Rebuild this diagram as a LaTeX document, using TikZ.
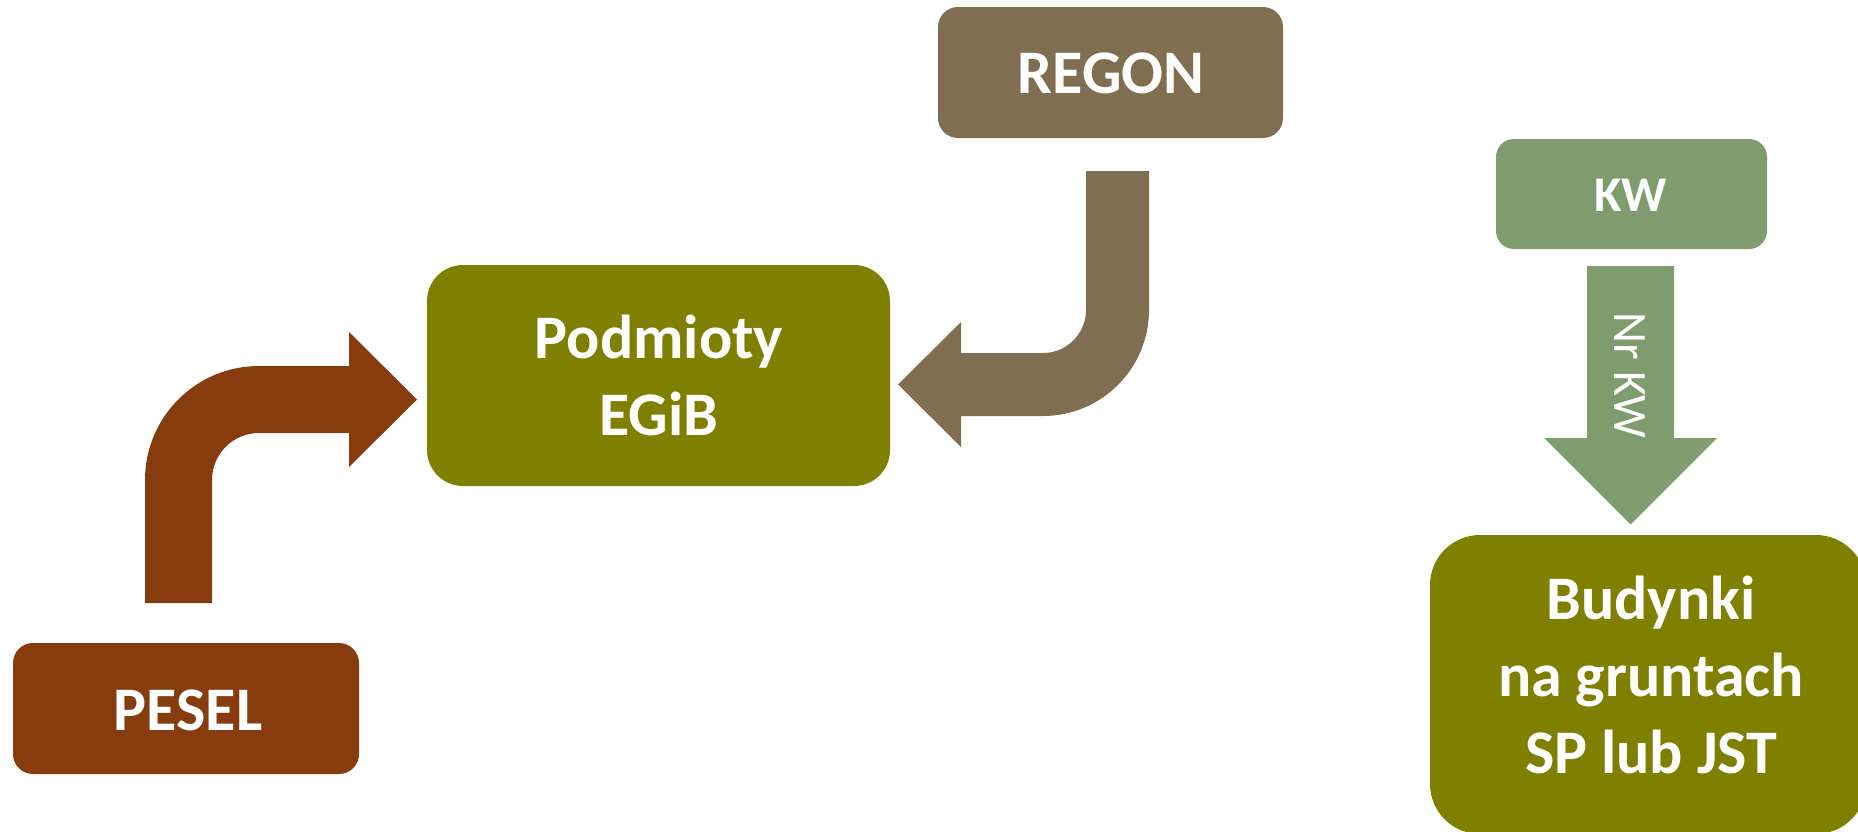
\documentclass[tikz,border=0pt]{standalone}
\usepackage{fontspec}
\setmainfont{Carlito}
\definecolor{olivebox}{RGB}{128,128,0}
\definecolor{regonc}{RGB}{127,111,80}
\definecolor{kwc}{RGB}{127,156,111}
\definecolor{peselc}{RGB}{135,60,14}
\newcommand{\cf}{\rule[-0.3em]{0pt}{1.232em}}
\tikzset{
  boxnode/.style={rectangle, rounded corners=#1, inner sep=0pt, draw=none},
  lbl/.style={text=white, font=\fontsize{62}{77}\selectfont\bfseries, align=center, inner sep=0pt},
}
\begin{document}
\begin{tikzpicture}[x=1pt,y=-1pt]
\useasboundingbox (0,0) rectangle (1858,831);
\clip (0,0) rectangle (1858,831);
% boxes
\node[boxnode=20pt, fill=regonc, minimum width=345pt, minimum height=131pt] (regon) at (1110.5,72.5) {};
\node[boxnode=18pt, fill=kwc, minimum width=271pt, minimum height=110pt] (kw) at (1631.5,194) {};
\node[boxnode=36pt, fill=olivebox, minimum width=463pt, minimum height=221pt] (podm) at (658.5,375.5) {};
\node[boxnode=20pt, fill=peselc, minimum width=346pt, minimum height=131pt] (pesel) at (186,708.5) {};
\node[boxnode=50pt, fill=olivebox, minimum width=436pt, minimum height=299pt] (bud) at (1648,684.5) {};
% texts
\node[lbl] (regonT) at (1111,74) {\cf REGON};
\node[lbl, font=\fontsize{50}{60}\selectfont\bfseries] (kwT) at (1631,196) {\cf KW};
\node[lbl] (podmT) at (659,377.5) {\cf Podmioty\\EGiB\cf};
\node[lbl] (peselT) at (188,711) {\cf PESEL};
\node[lbl] (budT) at (1651,677) {\cf Budynki\\na gruntach\\SP lub JST\cf};
% arrows
\fill[peselc] (145,603) -- (145,480) .. controls (145,417) and (196,366) .. (259,366)
  -- (349,366) -- (349,332) -- (417,399.5) -- (349,467) -- (349,433) -- (259,433)
  .. controls (233,433) and (212,454) .. (212,480) -- (212,603) -- cycle;
\fill[regonc] (1086,171) -- (1149,171) -- (1149,310) .. controls (1149,368.5) and (1101.5,416) .. (1043,416)
  -- (961,416) -- (961,447) -- (898,384.5) -- (961,322) -- (961,353) -- (1043,353)
  .. controls (1066.7,353) and (1086,333.7) .. (1086,310) -- cycle;
\fill[kwc] (1587,266) -- (1674,266) -- (1674,438) -- (1717,438) -- (1630.5,524.5) -- (1544,438) -- (1587,438) -- cycle;
\node[lbl, font=\fontsize{48}{58}\selectfont, rotate=-90] (nrkw) at (1629.5,375.5) {\cf Nr KW};
\end{tikzpicture}
\end{document}
